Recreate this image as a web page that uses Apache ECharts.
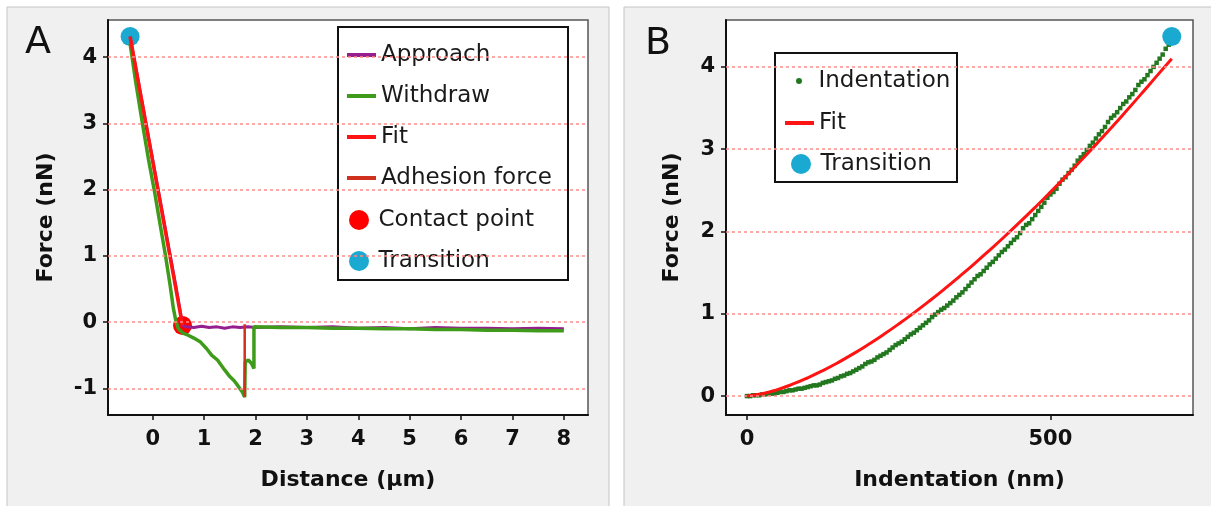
<!DOCTYPE html>
<html>
<head>
<meta charset="utf-8">
<script src="https://cdn.jsdelivr.net/npm/echarts@6/dist/echarts.min.js"></script>
<style>
  html, body { margin: 0; padding: 0; background: #ffffff; }
  #chart { width: 1211px; height: 506px; }
</style>
</head>
<body>
<div id="chart"></div>
<script>
// panel A: force vs distance
const distanceTicks = [0, 1, 2, 3, 4, 5, 6, 7, 8];
const forceTicksA = [-1, 0, 1, 2, 3, 4];
const approach = [
  [-0.44, 4.31], [-0.3, 3.72], [-0.15, 3.08], [0, 2.45], [0.15, 1.82], [0.3, 1.18],
  [0.45, 0.55], [0.55, 0.1], [0.58, -0.05], [0.65, -0.07], [0.8, -0.08], [0.95, -0.06],
  [1.1, -0.08], [1.25, -0.07], [1.4, -0.09], [1.55, -0.07], [1.7, -0.08], [1.85, -0.07],
  [2.0, -0.08], [2.5, -0.07], [3.0, -0.08], [3.5, -0.07], [4.0, -0.09], [4.5, -0.08],
  [5.0, -0.1], [5.5, -0.08], [6.0, -0.09], [6.5, -0.09], [7.0, -0.1], [7.5, -0.09], [8.0, -0.1]
];
const withdraw = [
  [-0.44, 4.2], [-0.33, 3.62], [-0.2, 3.0], [-0.08, 2.45], [0.04, 1.95], [0.15, 1.45],
  [0.25, 1.0], [0.34, 0.55], [0.4, 0.22], [0.45, 0.02], [0.5, -0.1], [0.6, -0.17],
  [0.7, -0.2], [0.8, -0.24], [0.93, -0.3], [1.05, -0.4], [1.15, -0.5], [1.26, -0.57],
  [1.4, -0.72], [1.5, -0.82], [1.58, -0.88], [1.65, -0.95], [1.74, -1.05], [1.79, -1.13],
  [1.8, -0.6], [1.86, -0.57], [1.92, -0.62], [1.97, -0.7], [1.97, -0.07], [2.5, -0.08],
  [3.0, -0.08], [3.5, -0.09], [4.0, -0.09], [4.5, -0.1], [5.0, -0.1], [5.5, -0.11],
  [6.0, -0.11], [6.5, -0.12], [7.0, -0.12], [7.5, -0.13], [8.0, -0.13]
];
const fitA = [[-0.44, 4.31], [0.58, -0.05]];
const adhesion = [[1.79, -0.03], [1.79, -1.13]];
const contactPoint = [[0.58, -0.05]];
const transitionA = [[-0.44, 4.31]];

// panel B: force vs indentation
const indentTicks = [0, 500];
const forceTicksB = [0, 1, 2, 3, 4];
const indentX = [
  0, 5, 10, 15, 20, 25, 30, 35, 40, 45, 50, 55, 60, 65, 70, 75, 80, 85, 90, 95,
  100, 105, 110, 115, 120, 125, 130, 135, 140, 145, 150, 155, 160, 165, 170, 175, 180, 185, 190, 195,
  200, 205, 210, 215, 220, 225, 230, 235, 240, 245, 250, 255, 260, 265, 270, 275, 280, 285, 290, 295,
  300, 305, 310, 315, 320, 325, 330, 335, 340, 345, 350, 355, 360, 365, 370, 375, 380, 385, 390, 395,
  400, 405, 410, 415, 420, 425, 430, 435, 440, 445, 450, 455, 460, 465, 470, 475, 480, 485, 490, 495,
  500, 505, 510, 515, 520, 525, 530, 535, 540, 545, 550, 555, 560, 565, 570, 575, 580, 585, 590, 595,
  600, 605, 610, 615, 620, 625, 630, 635, 640, 645, 650, 655, 660, 665, 670, 675, 680, 685, 690, 695
];
const indentForce = [
  0.00, 0.00, 0.01, 0.01, 0.01, 0.02, 0.02, 0.03, 0.03, 0.03, 0.04, 0.05, 0.05, 0.06, 0.07, 0.07, 0.08, 0.09, 0.09, 0.10,
  0.11, 0.12, 0.13, 0.13, 0.14, 0.16, 0.17, 0.18, 0.19, 0.21, 0.22, 0.24, 0.25, 0.27, 0.28, 0.30, 0.32, 0.34, 0.36, 0.39,
  0.41, 0.42, 0.44, 0.47, 0.49, 0.51, 0.53, 0.56, 0.59, 0.62, 0.64, 0.66, 0.69, 0.72, 0.75, 0.77, 0.80, 0.83, 0.86, 0.89,
  0.92, 0.96, 0.99, 1.02, 1.05, 1.07, 1.10, 1.13, 1.16, 1.20, 1.23, 1.26, 1.30, 1.34, 1.38, 1.42, 1.46, 1.48, 1.52, 1.56,
  1.60, 1.63, 1.67, 1.71, 1.75, 1.78, 1.82, 1.86, 1.90, 1.93, 1.98, 2.04, 2.08, 2.10, 2.15, 2.20, 2.25, 2.30, 2.35, 2.41,
  2.45, 2.48, 2.52, 2.58, 2.63, 2.66, 2.71, 2.75, 2.80, 2.86, 2.90, 2.94, 2.99, 3.04, 3.08, 3.13, 3.18, 3.22, 3.27, 3.33,
  3.38, 3.41, 3.45, 3.50, 3.55, 3.58, 3.63, 3.67, 3.72, 3.78, 3.82, 3.85, 3.90, 3.95, 4.00, 4.05, 4.10, 4.15, 4.22, 4.27
];
const fitBX = [0, 25, 50, 75, 100, 125, 150, 175, 200, 225, 250, 275, 300, 325, 350, 375,
  400, 425, 450, 475, 500, 525, 550, 575, 600, 625, 650, 675, 700];
const fitBForce = [0, 0.028, 0.078, 0.144, 0.222, 0.31, 0.407, 0.513, 0.627, 0.748, 0.876,
  1.011, 1.152, 1.299, 1.452, 1.61, 1.774, 1.942, 2.116, 2.295, 2.479, 2.667, 2.86, 3.057,
  3.258, 3.464, 3.674, 3.888, 4.1];
const transitionB = [[700, 4.37]];

const FONT = 'DejaVu Sans';
const chart = echarts.init(document.getElementById('chart'));

const gridLines = (ticks) => ({
  silent: true,
  symbol: ['none', 'none'],
  label: { show: false },
  lineStyle: { color: '#ff8c8c', type: [3, 3], width: 1.5, opacity: 1 },
  data: ticks.map(v => ({ yAxis: v }))
});

const axisX = (ticks, min, max, name, gridIndex) => ({
  type: 'value', gridIndex, min, max,
  name, nameLocation: 'middle', nameGap: 54,
  nameTextStyle: { fontFamily: FONT, fontSize: 22, fontWeight: 'bold', color: '#111' },
  axisLine: { show: true, onZero: false, lineStyle: { color: '#111', width: 2 } },
  axisTick: { show: true, customValues: ticks, length: 5, lineStyle: { color: '#111', width: 1.5 } },
  axisLabel: { customValues: ticks, fontFamily: FONT, fontSize: 21, fontWeight: 'bold', color: '#111', margin: 14 },
  splitLine: { show: false }
});

const axisY = (ticks, min, max, gridIndex, nameGap) => ({
  type: 'value', gridIndex, min, max,
  name: 'Force (nN)', nameLocation: 'middle', nameGap,
  nameTextStyle: { fontFamily: FONT, fontSize: 22, fontWeight: 'bold', color: '#111' },
  axisLine: { show: true, onZero: false, lineStyle: { color: '#111', width: 2 } },
  axisTick: { show: true, customValues: ticks, length: 5, lineStyle: { color: '#111', width: 1.5 } },
  axisLabel: { customValues: ticks, fontFamily: FONT, fontSize: 21, fontWeight: 'bold', color: '#111', margin: 11 },
  splitLine: { show: false }
});

const legendText = { fontFamily: FONT, fontSize: 23, lineHeight: 41, color: '#1a1a1a' };

chart.setOption({
  animation: false,
  graphic: [
    { type: 'rect', z: -10, shape: { x: 7, y: 7, width: 602, height: 510 },
      style: { fill: '#f0f0f0', stroke: '#c4c4c4', lineWidth: 1 } },
    { type: 'rect', z: -10, shape: { x: 624, y: 7, width: 600, height: 510 },
      style: { fill: '#f0f0f0', stroke: '#c4c4c4', lineWidth: 1 } },
    { type: 'rect', z: 3, shape: { x: 338, y: 27, width: 230, height: 253 },
      style: { fill: '#ffffff', stroke: '#111', lineWidth: 2 } },
    { type: 'rect', z: 3, shape: { x: 775, y: 53, width: 182, height: 129 },
      style: { fill: '#ffffff', stroke: '#111', lineWidth: 2 } },
    { type: 'text', left: 25, top: 24, z: 5,
      style: { text: 'A', fontFamily: FONT, fontSize: 38, fill: '#111' } },
    { type: 'text', left: 645, top: 25, z: 5,
      style: { text: 'B', fontFamily: FONT, fontSize: 38, fill: '#111' } }
  ],
  grid: [
    { left: 108, top: 20, width: 480, height: 395, show: true,
      backgroundColor: '#ffffff', borderColor: '#555', borderWidth: 1.5 },
    { left: 726, top: 20, width: 467, height: 395, show: true,
      backgroundColor: '#ffffff', borderColor: '#555', borderWidth: 1.5 }
  ],
  xAxis: [
    axisX(distanceTicks, -0.87, 8.47, 'Distance (µm)', 0),
    axisX(indentTicks, -34.6, 735, 'Indentation (nm)', 1)
  ],
  yAxis: [
    axisY(forceTicksA, -1.4, 4.56, 0, 51),
    axisY(forceTicksB, -0.23, 4.57, 1, 43)
  ],
  legend: [
    { data: ['Approach', 'Withdraw', 'Fit', 'Adhesion force'], orient: 'vertical',
      left: 342, top: 29.5, itemWidth: 29, itemHeight: 4, icon: 'rect', itemGap: 0,
      selectedMode: false, z: 5, textStyle: legendText },
    { data: ['Contact point', 'Transition'], orient: 'vertical',
      left: 344, top: 194.5, itemWidth: 29, itemHeight: 20, icon: 'circle', itemGap: 0,
      selectedMode: false, z: 5, textStyle: legendText },
    { data: ['Indentation'], orient: 'vertical',
      left: 791, top: 55.5, itemWidth: 29, itemHeight: 6, icon: 'circle', itemGap: 0,
      selectedMode: false, z: 5, textStyle: legendText },
    { data: ['Fit'], orient: 'vertical',
      left: 780, top: 97.5, itemWidth: 29, itemHeight: 4, icon: 'rect', itemGap: 0,
      selectedMode: false, z: 5, textStyle: legendText },
    { data: ['Transition'], orient: 'vertical',
      left: 786, top: 138.5, itemWidth: 29, itemHeight: 20, icon: 'circle', itemGap: 0,
      selectedMode: false, z: 5, textStyle: legendText }
  ],
  series: [
    { name: 'Approach', type: 'line', xAxisIndex: 0, yAxisIndex: 0, data: approach,
      showSymbol: false, lineStyle: { color: '#951f8f', width: 3 }, itemStyle: { color: '#951f8f' },
      markLine: gridLines(forceTicksA) },
    { name: 'Withdraw', type: 'line', xAxisIndex: 0, yAxisIndex: 0, data: withdraw,
      showSymbol: false, lineStyle: { color: '#3e9c1a', width: 3.5 }, itemStyle: { color: '#3e9c1a' } },
    { name: 'Fit', type: 'line', xAxisIndex: 0, yAxisIndex: 0, data: fitA,
      showSymbol: false, lineStyle: { color: '#ff1414', width: 3.5 }, itemStyle: { color: '#ff1414' } },
    { name: 'Adhesion force', type: 'line', xAxisIndex: 0, yAxisIndex: 0, data: adhesion,
      showSymbol: false, lineStyle: { color: '#d0301e', width: 2.5 }, itemStyle: { color: '#d0301e' } },
    { name: 'Contact point', type: 'scatter', xAxisIndex: 0, yAxisIndex: 0, data: contactPoint,
      symbolSize: 19, itemStyle: { color: '#ff0000', opacity: 1 } },
    { name: 'Transition', type: 'scatter', xAxisIndex: 0, yAxisIndex: 0, data: transitionA,
      symbolSize: 19, itemStyle: { color: '#19a9d1', opacity: 1 } },

    { name: 'Indentation', type: 'scatter', xAxisIndex: 1, yAxisIndex: 1,
      data: indentX.map((x, i) => [x, indentForce[i]]),
      symbol: 'rect', symbolSize: 4.5, itemStyle: { color: '#23781f', opacity: 1 },
      markLine: gridLines(forceTicksB) },
    { name: 'Fit', type: 'line', xAxisIndex: 1, yAxisIndex: 1,
      data: fitBX.map((x, i) => [x, fitBForce[i]]),
      showSymbol: false, smooth: true, lineStyle: { color: '#ff1414', width: 3 }, itemStyle: { color: '#ff1414' } },
    { name: 'Transition', type: 'scatter', xAxisIndex: 1, yAxisIndex: 1, data: transitionB,
      symbolSize: 19, itemStyle: { color: '#19a9d1', opacity: 1 } }
  ]
});
</script>
</body>
</html>
